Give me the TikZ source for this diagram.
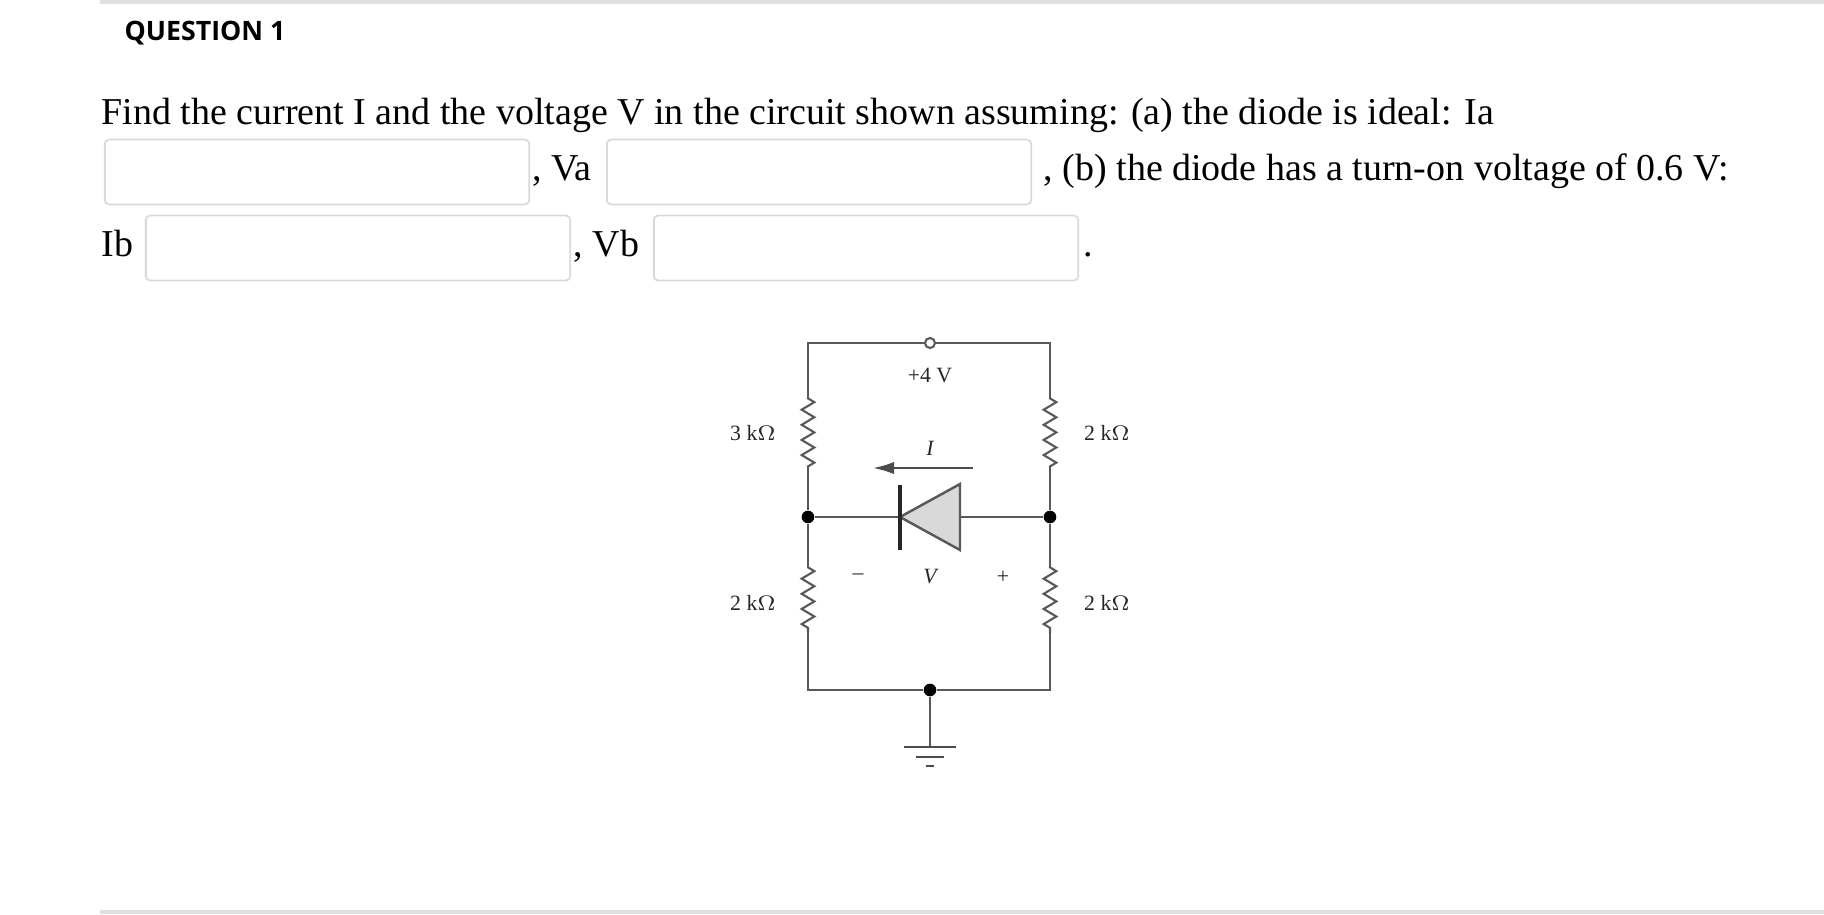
\documentclass[tikz,border=0pt]{standalone}
\usepackage{fontspec}
\setmainfont{Liberation Serif}
\newfontfamily\qfont{Open Sans}
\usetikzlibrary{decorations.pathmorphing,arrows.meta}
\tikzset{
  wire/.style={gray!70!black,line width=0.6pt},
  res/.style={wire,decorate,decoration={zigzag,segment length=4.3pt,amplitude=1.8pt,pre length=0.1pt,post length=0.1pt}},
  ansbox/.style={draw=gray!30,line width=0.5pt,rounded corners=1.2pt,minimum width=4.24cm,minimum height=0.65cm},
  dot/.style={circle,fill=black,inner sep=0pt,minimum size=3.6pt},
  val/.style={font=\fontsize{6.2}{7}\selectfont,text=gray!30!black},
  qtext/.style={font=\fontsize{10.8}{12}\selectfont,anchor=base west,inner sep=0pt}
}
\begin{document}
\begin{tikzpicture}[x=0.01cm,y=-0.01cm]
  \useasboundingbox (0,0) rectangle (1824,914);
  % page rules
  \draw[gray!25,line width=1pt] (100,2) -- (1824,2);
  \draw[gray!25,line width=1pt] (100,912) -- (1824,912);
  \node[anchor=west,inner sep=0pt,font=\qfont\bfseries\fontsize{7.6}{9}\selectfont] (title) at (124,33) {QUESTION 1};

  % question text
  \node[qtext] (l1) at (101,124) {Find the current I and the voltage V in the circuit shown assuming: (a) the diode is ideal: Ia};
  \node[ansbox] (boxIa) at (317,172) {};
  \node[qtext] (va) at (532,180) {, Va};
  \node[ansbox] (boxVa) at (819,172) {};
  \node[qtext] (l2) at (1043,180) {, (b) the diode has a turn-on voltage of 0.6 V:};
  \node[qtext] (ib) at (101,256) {Ib};
  \node[ansbox] (boxIb) at (358,248) {};
  \node[qtext] (vb) at (573,256) {, Vb};
  \node[ansbox] (boxVb) at (866,248) {};
  \node[qtext] (dotend) at (1083,256) {.};

  % circuit nodes
  \coordinate (tl) at (808,343);
  \coordinate (tr) at (1050,343);
  \coordinate (bl) at (808,690);
  \coordinate (br) at (1050,690);
  \node[dot] (ml) at (808,517) {};
  \node[dot] (mr) at (1050,517) {};
  \node[dot] (gnd) at (930,690) {};
  \node[circle,draw=gray!70!black,line width=0.6pt,fill=white,inner sep=0pt,minimum size=0.1cm] (vcc) at (930,343) {};
  \coordinate (r1a) at (808,398); \coordinate (r1b) at (808,467);
  \coordinate (r2a) at (808,567); \coordinate (r2b) at (808,633);
  \coordinate (r3a) at (1050,398); \coordinate (r3b) at (1050,467);
  \coordinate (r4a) at (1050,567); \coordinate (r4b) at (1050,633);
  \coordinate (dk) at (900,517);
  \coordinate (da) at (960,517);

  % wires
  \draw[wire] (vcc) -- (tl) -- (r1a);
  \draw[wire] (vcc) -- (tr) -- (r3a);
  \draw[res] (r1a) -- (r1b);
  \draw[res] (r2a) -- (r2b);
  \draw[res] (r3a) -- (r3b);
  \draw[res] (r4a) -- (r4b);
  \draw[wire] (r1b) -- (ml) -- (r2a);
  \draw[wire] (r3b) -- (mr) -- (r4a);
  \draw[wire] (r2b) -- (bl) -- (gnd) -- (br) -- (r4b);
  \draw[wire] (ml) -- (dk);
  \draw[wire] (da) -- (mr);

  % diode
  \draw[gray!70!black,line width=0.7pt,fill=gray!30] (dk) -- (960,484) -- (960,550) -- cycle;
  \draw[black!85,line width=1.3pt] (900,485) -- (900,550);

  % current arrow
  \coordinate (ia) at (973,468);
  \coordinate (ib2) at (873,468);
  \draw[gray!60!black,line width=0.6pt,-{Latex[length=6pt,width=3.5pt]}] (ia) -- (ib2);
  \node[val,font=\itshape\fontsize{6.2}{7}\selectfont] (lI) at (930,448) {I};

  % ground
  \coordinate (g0) at (930,747);
  \draw[wire] (gnd) -- (g0);
  \draw[black!70,line width=0.8pt] (904,747) -- (956,747);
  \draw[black!70,line width=0.8pt] (916,757) -- (944,757);
  \draw[black!70,line width=0.8pt] (926,766) -- (934,766);

  % labels
  \node[val] (v4) at (930,375) {+4 V};
  \node[val] (lr1) at (753,433) {3 k$\Omega$};
  \node[val] (lr2) at (753,603) {2 k$\Omega$};
  \node[val] (lr3) at (1107,433) {2 k$\Omega$};
  \node[val] (lr4) at (1107,603) {2 k$\Omega$};
  \node[val] (vm) at (858,577) {\textendash};
  \node[val,font=\itshape\fontsize{6.2}{7}\selectfont] (lV) at (930,577) {V};
  \node[val] (vp) at (1003,577) {+};
\end{tikzpicture}
\end{document}
